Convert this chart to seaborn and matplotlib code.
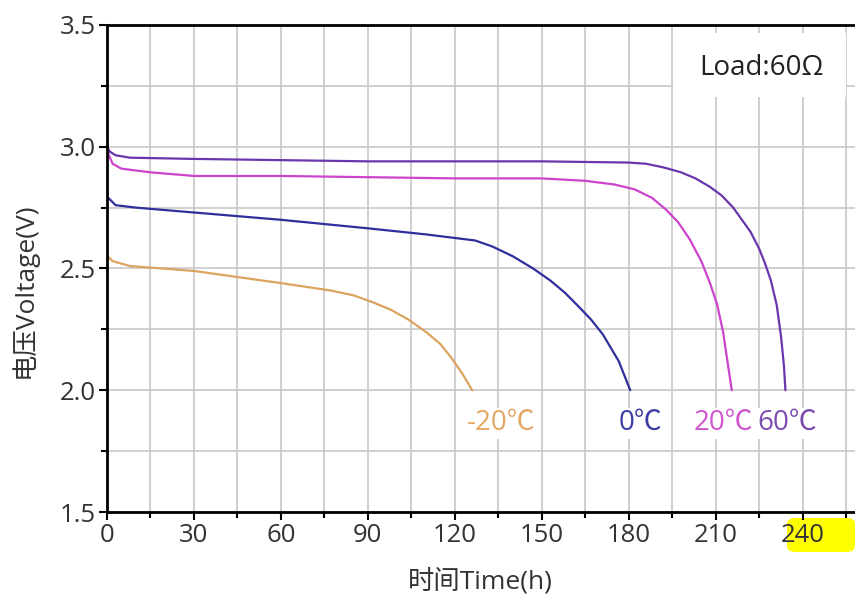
import numpy as np
import pandas as pd
import seaborn as sns
import matplotlib.pyplot as plt
from matplotlib.ticker import MultipleLocator
from matplotlib.patches import FancyBboxPatch, Rectangle

# discharge curves (time in h, voltage in V)
t_60 = [0, 1, 3, 8, 30, 60, 90, 120, 150, 180, 186, 192, 198, 203, 208, 212, 216, 219, 222, 225,
        227, 229, 231, 232.5, 233.5, 234]
v_60 = [3.00, 2.98, 2.965, 2.955, 2.95, 2.945, 2.94, 2.94, 2.94, 2.935, 2.93, 2.915, 2.895, 2.87,
        2.835, 2.80, 2.75, 2.70, 2.65, 2.58, 2.52, 2.45, 2.35, 2.22, 2.10, 2.0]

t_20 = [0, 0.5, 2, 5, 15, 30, 60, 90, 120, 150, 165, 175, 182, 188, 193, 197, 201, 205, 208, 210.5,
        212.5, 214, 215.5]
v_20 = [3.05, 2.97, 2.93, 2.91, 2.895, 2.88, 2.88, 2.875, 2.87, 2.87, 2.86, 2.845, 2.825, 2.79,
        2.74, 2.69, 2.62, 2.53, 2.44, 2.35, 2.24, 2.12, 2.0]

t_0 = [0, 0.5, 3, 10, 30, 60, 90, 110, 127, 133, 140, 147, 153, 158, 163, 167, 171, 174, 176.5,
       178.5, 180.5]
v_0 = [2.78, 2.79, 2.76, 2.75, 2.73, 2.70, 2.665, 2.64, 2.615, 2.59, 2.55, 2.50, 2.45, 2.40, 2.34,
       2.29, 2.23, 2.17, 2.12, 2.06, 2.0]

t_m20 = [0, 0.3, 2, 8, 30, 60, 77, 85, 92, 98, 104, 110, 115, 119, 122.5, 126]
v_m20 = [2.62, 2.55, 2.53, 2.51, 2.49, 2.44, 2.41, 2.39, 2.36, 2.33, 2.29, 2.24, 2.19, 2.13,
         2.07, 2.0]

temps = ['-20℃', '0℃', '20℃', '60℃']
line_colors = {'-20℃': '#dba35e', '0℃': '#2e2e9c', '20℃': '#cc44cc', '60℃': '#6a36ad'}
text_colors = {'-20℃': '#e3a865', '0℃': '#3c3ca6', '20℃': '#d055d0', '60℃': '#7a4cb0'}

frames = []
for name, t, v in [('-20℃', t_m20, v_m20), ('0℃', t_0, v_0), ('20℃', t_20, v_20), ('60℃', t_60, v_60)]:
    frames.append(pd.DataFrame({'time': t, 'volt': v, 'temp': name}))
data = pd.concat(frames, ignore_index=True)

sns.set_theme(style='white')
plt.rcParams['font.family'] = ['Open Sans', 'Noto Sans CJK SC', 'DejaVu Sans']

fig = plt.figure(figsize=(8.55, 6.02), dpi=100)
ax = fig.add_axes([0.125, 0.1495, 0.875, 0.809])

sns.lineplot(data=data, x='time', y='volt', hue='temp', hue_order=temps, palette=line_colors,
             sort=False, estimator=None, linewidth=1.6, legend=False, ax=ax)

ax.set_xlim(0, 258)
ax.set_ylim(1.5, 3.5)
ax.xaxis.set_major_locator(MultipleLocator(30))
ax.xaxis.set_minor_locator(MultipleLocator(15))
ax.yaxis.set_major_locator(MultipleLocator(0.5))
ax.yaxis.set_minor_locator(MultipleLocator(0.25))
ax.set_yticklabels([f'{v:.1f}' for v in ax.get_yticks()])
ax.grid(which='both', color='#c8c8c8', linewidth=1.2)
ax.set_axisbelow(True)

for s in ['left', 'bottom', 'top']:
    ax.spines[s].set_color('black')
    ax.spines[s].set_linewidth(2)
ax.spines['right'].set_visible(False)
ax.tick_params(which='major', direction='out', length=6, width=1.5, color='black',
               labelsize=18.5, labelcolor='#333333', pad=2)
ax.tick_params(which='minor', direction='out', length=4, width=1.5, color='black')
ax.tick_params(axis='x', which='both', bottom=True)
ax.tick_params(axis='y', which='both', left=True)

ax.set_xlabel('时间Time(h)', fontsize=19, color='#333333')
ax.set_ylabel('电压Voltage(V)', fontsize=19, color='#333333')
ax.xaxis.set_label_coords(0.499, -0.115)
ax.yaxis.set_label_coords(-0.092, 0.456)

# temperature labels under the curve ends
label_x = {'-20℃': 136, '0℃': 184, '20℃': 212.5, '60℃': 234.5}
for name in temps:
    ax.text(label_x[name], 1.865, name, color=text_colors[name], fontsize=20,
            ha='center', va='center',
            bbox=dict(facecolor='white', edgecolor='none', pad=1))

# white box behind the load note
ax.add_patch(Rectangle((195.4, 3.204), 59.4, 0.263, facecolor='white', edgecolor='none', zorder=2))
ax.text(225.8, 3.323, 'Load:60Ω', fontsize=20, color='#222222', ha='center', va='center', zorder=3)

# yellow highlight behind the 240 tick label
hl = FancyBboxPatch((787 / 855, 1 - 552 / 602), 68 / 855, 34 / 602,
                    boxstyle='round,pad=0,rounding_size=0.01', transform=fig.transFigure,
                    facecolor='#ffff00', edgecolor='none', zorder=-1)
fig.patches.append(hl)

plt.savefig('out.png', dpi=100)
